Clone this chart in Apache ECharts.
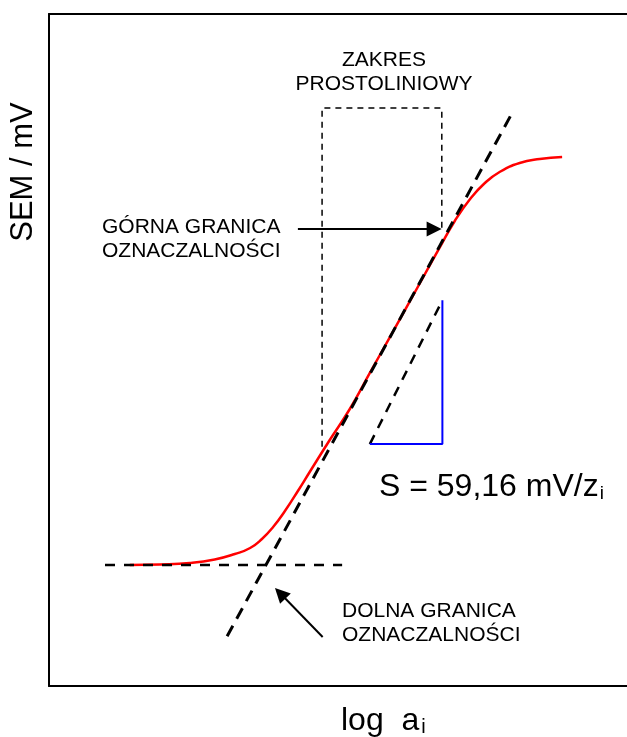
<!DOCTYPE html>
<html>
<head>
<meta charset="utf-8">
<script src="https://cdn.jsdelivr.net/npm/echarts@6/dist/echarts.min.js"></script>
<style>
  html, body { margin: 0; padding: 0; background: #fff; }
  #main { width: 627px; height: 737px; }
</style>
</head>
<body>
<div id="main"></div>
<script>
// krzywa kalibracji elektrody (jednostki umowne: log a, mV)
var curve = [
  [1.37, 18.01], [1.88, 18.08], [2.39, 18.30], [2.81, 18.82], [3.15, 19.64],
  [3.41, 20.54], [3.61, 21.88], [3.80, 23.66], [4.00, 26.04], [4.22, 29.02],
  [4.42, 31.85], [4.76, 36.61], [5.10, 41.22], [5.44, 46.58], [5.78, 51.93],
  [6.29, 59.97], [6.63, 65.33], [6.88, 69.20], [7.14, 72.47], [7.39, 74.85],
  [7.64, 76.49], [7.98, 77.83], [8.32, 78.42], [8.70, 78.72]
]
var tangent = [[3.02, 7.4], [7.86, 85.4]]
var baseline = [[0.95, 18.0], [4.97, 18.0]]
var rangeBox = [[4.63, 35.6], [4.63, 86.0], [6.66, 86.0], [6.66, 68.0]]
var slopeLine = [[5.44, 36.0], [6.67, 57.4]]
var slopeTriangle = [[5.44, 36.0], [6.67, 36.0], [6.67, 57.4]]
var upperArrow = [[4.22, 68.0], [6.53, 68.0]]
var lowerArrow = [[4.64, 7.3], [3.92, 13.8]]

var font = '"Liberation Sans", Arial, sans-serif'

var chartDom = document.getElementById('main')
var myChart = echarts.init(chartDom)

function dashed (data, width, dash) {
  return {
    type: 'line',
    data: data,
    symbol: 'none',
    silent: true,
    animation: false,
    lineStyle: { color: '#000', width: width, type: dash }
  }
}

function arrow (coords) {
  return {
    type: 'lines',
    coordinateSystem: 'cartesian2d',
    silent: true,
    animation: false,
    symbol: ['none', 'triangle'],
    symbolSize: 15,
    lineStyle: { color: '#000', width: 2, opacity: 1 },
    data: [{ coords: coords }]
  }
}

var frame = { show: true, onZero: false, lineStyle: { color: '#000', width: 2 } }

var option = {
  animation: false,
  grid: { left: 49, top: 14, right: 0, bottom: 51 },
  xAxis: [
    { type: 'value', min: 0, max: 9.8, axisLine: frame, axisTick: { show: false }, axisLabel: { show: false }, splitLine: { show: false } },
    { type: 'value', position: 'top', min: 0, max: 9.8, axisLine: frame, axisTick: { show: false }, axisLabel: { show: false }, splitLine: { show: false } }
  ],
  yAxis: { type: 'value', min: 0, max: 100, axisLine: frame, axisTick: { show: false }, axisLabel: { show: false }, splitLine: { show: false } },
  series: [
    {
      type: 'line',
      data: curve,
      smooth: 0.5,
      symbol: 'none',
      animation: false,
      lineStyle: { color: '#ff0000', width: 2.5 }
    },
    dashed(tangent, 3, [12, 8]),
    dashed(baseline, 2.5, [10, 9]),
    dashed(rangeBox, 1.5, [6, 5]),
    dashed(slopeLine, 2.5, [10, 8]),
    {
      type: 'line',
      data: slopeTriangle,
      symbol: 'none',
      animation: false,
      lineStyle: { color: '#0000ff', width: 2 }
    },
    arrow(upperArrow),
    arrow(lowerArrow)
  ],
  graphic: [
    {
      type: 'text', x: 384, y: 48,
      style: { text: 'ZAKRES\nPROSTOLINIOWY', font: '21px ' + font, fill: '#000', align: 'center', lineHeight: 24 }
    },
    {
      type: 'text', x: 102, y: 215,
      style: { text: 'GÓRNA GRANICA\nOZNACZALNOŚCI', font: '21px ' + font, fill: '#000', lineHeight: 24 }
    },
    {
      type: 'text', x: 342, y: 599,
      style: { text: 'DOLNA GRANICA\nOZNACZALNOŚCI', font: '21px ' + font, fill: '#000', lineHeight: 24 }
    },
    {
      type: 'text', x: 379, y: 471,
      style: {
        text: 'S = 59,16 mV/z{s|i}',
        font: '32px ' + font,
        fill: '#000',
        rich: { s: { fontSize: 19, fontFamily: font, verticalAlign: 'bottom', padding: [0, 0, 0, 1] } }
      }
    },
    {
      type: 'text', x: 341, y: 705,
      style: {
        text: 'log  a{s|i}',
        font: '32px ' + font,
        fill: '#000',
        rich: { s: { fontSize: 20, fontFamily: font, verticalAlign: 'bottom', padding: [0, 0, 0, 2] } }
      }
    },
    {
      type: 'text', x: 23, y: 172, rotation: Math.PI / 2,
      style: { text: 'SEM / mV', font: '31px ' + font, fill: '#000', align: 'center', verticalAlign: 'middle' }
    }
  ]
}

option && myChart.setOption(option)
</script>
</body>
</html>
